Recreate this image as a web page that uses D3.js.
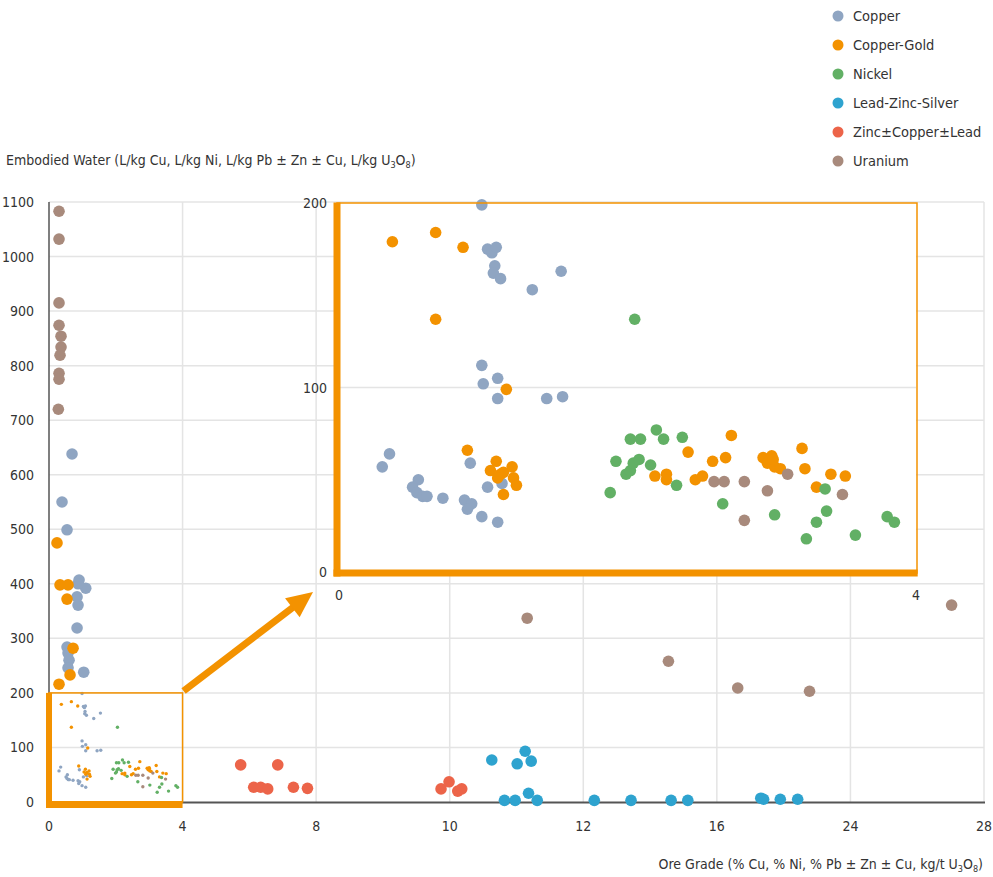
<!DOCTYPE html>
<meta charset="utf-8">
<script src="https://d3js.org/d3.v7.min.js"></script>
<style>
  body{ margin:0; background:#fff; }
  text{ font-family:"Liberation Sans Narrow","DejaVu Sans Condensed","Roboto",sans-serif; fill:#333; }
</style>
<div id="chart"></div>
<script>

// series names and colours
var seriesNames = ["Copper","Copper-Gold","Nickel","Lead-Zinc-Silver","Zinc\u00b1Copper\u00b1Lead","Uranium"]
var colors = ["#8fa5c2","#f39200","#62b065","#2ea3cf","#ec6449","#a88a7c"]

// [ore grade, embodied water]
var copper = [[0.69,638],[0.39,550],[0.54,499],[0.90,407],[1.10,392],[0.87,400],[0.84,376],[0.87,361],[0.84,319],
  [0.54,284],[0.57,273],[0.60,260],[0.57,246],[1.04,238],
  [0.99,199],[1.03,175],[1.06,173],[1.09,176],[1.08,166],[1.07,162],[1.12,159],[1.34,153],[1.54,163],
  [0.99,112],[1.00,102],[1.10,105],[1.10,94],[1.44,94],[1.55,95],
  [0.35,64],[0.30,57],[0.55,50],[0.51,46],[0.54,43],[0.58,41],[0.61,41],[0.72,40],[0.91,59],[1.03,46],
  [1.13,48],[0.87,39],[0.92,37],[0.89,34],[0.99,30],[1.10,27]]
var copperGold = [[0.24,475],[0.33,398],[0.57,398],[0.54,372],[0.72,282],[0.63,233],[0.30,216],
  [0.37,179],[0.67,184],[0.86,176],[0.67,137],[1.16,99],
  [0.89,66],[1.09,60],[1.05,55],[1.12,53],[1.14,54],[1.20,57],[1.21,51],[1.23,47],[1.10,51],[1.14,42],
  [2.72,74],[2.42,65],[2.59,60],[2.68,62],[2.19,52],[2.27,53],[2.27,50],[2.47,50],[2.52,52],[2.94,62],
  [3.00,63],[2.97,59],[3.02,57],[3.06,56],[3.01,61],[3.21,67],[3.23,56],[3.41,53],[3.51,52],[3.31,46]]
var nickel = [[2.05,137],[1.88,43],[1.92,60],[1.99,53],[2.02,55],[2.04,59],[2.08,61],[2.02,72],[2.09,72],
  [2.20,77],[2.25,72],[2.16,58],[2.38,73],[2.34,47],[2.66,37],[3.02,31],[3.24,18],[3.31,27],[3.38,33],
  [3.37,45],[3.58,20],[3.80,30],[3.85,27]]
var leadZinc = [[10.63,77],[10.82,3],[10.98,3],[11.13,93],[11.01,70],[11.22,75],[11.18,16],[11.31,3],
  [12.33,3],[13.43,3],[14.63,3],[15.13,3],[18.63,7],[18.8,5],[19.8,5],[20.84,5]]
var zinc = [[5.74,68],[6.13,27],[6.34,27],[6.55,24],[6.85,68],[7.32,27],[7.74,25],[9.87,24],[9.99,37],
  [10.12,20],[10.18,24]]
var uranium = [[0.3,1083],[0.3,1032],[0.3,915],[0.3,874],[0.36,854],[0.36,834],[0.33,819],[0.3,786],[0.3,775],
  [0.28,720],[11.16,337],[14.55,258],[17.25,209],[21.55,203],[27.03,361],
  [2.60,49],[2.67,49],[2.81,49],[2.97,44],[3.11,53],[2.81,28],[3.49,42]]

var allSeries = [copper,copperGold,nickel,leadZinc,zinc,uranium]

var xTicks = [0,4,8,10,12,16,24,28]
var yTicks = [0,100,200,300,400,500,600,700,800,900,1000,1100]
var insetXTicks = [0,4]
var insetYTicks = [0,100,200]
var zoomBox = {x:4, y:200}

const width = 993, height = 877

const svg = d3.select("#chart").append("svg")
  .attr("width", width).attr("height", height)

// main scales: x axis is broken, ticks evenly spaced
var xScale = d3.scaleLinear().domain(xTicks)
  .range(xTicks.map(function(d,i){ return 49 + i*(984-49)/(xTicks.length-1) }))
var yScale = d3.scaleLinear().domain([0,1100]).range([802,202])

// inset scales
var ixScale = d3.scaleLinear().domain([0,4]).range([339,916])
var iyScale = d3.scaleLinear().domain([0,200]).range([572,203])

var grid = svg.append("g")
grid.selectAll(".hg").data(yTicks.slice(1)).join("line")
  .attr("x1",49).attr("x2",984)
  .attr("y1",d=>yScale(d)).attr("y2",d=>yScale(d))
  .attr("stroke","#e4e4e4").attr("stroke-width",1.5)
grid.selectAll(".vg").data(xTicks.slice(1)).join("line")
  .attr("x1",d=>xScale(d)).attr("x2",d=>xScale(d))
  .attr("y1",202).attr("y2",802)
  .attr("stroke","#e4e4e4").attr("stroke-width",1.5)

// axis lines
svg.append("line").attr("x1",49).attr("x2",49).attr("y1",202).attr("y2",803)
  .attr("stroke","#555").attr("stroke-width",1.5)
svg.append("line").attr("x1",49).attr("x2",985).attr("y1",802.5).attr("y2",802.5)
  .attr("stroke","#555").attr("stroke-width",2)

// tick labels
svg.append("g").selectAll("text").data(yTicks).join("text")
  .attr("x",34).attr("y",d=>yScale(d)+5)
  .attr("text-anchor","end").attr("font-size",14)
  .text(d=>d)
svg.append("g").selectAll("text").data(xTicks).join("text")
  .attr("x",d=>xScale(d)).attr("y",831)
  .attr("text-anchor","middle").attr("font-size",14)
  .text(d=>d)

function inBox(p){ return p[0] <= zoomBox.x && p[1] <= zoomBox.y }

// main points
allSeries.forEach(function(data,i){
  var g = svg.append("g")
  g.selectAll("circle.big").data(data.filter(p=>!inBox(p))).join("circle")
    .attr("cx",p=>xScale(p[0])).attr("cy",p=>yScale(p[1]))
    .attr("r",5.8).attr("fill",colors[i])
  g.selectAll("circle.small").data(data.filter(inBox)).join("circle")
    .attr("cx",p=>xScale(p[0])).attr("cy",p=>yScale(p[1]))
    .attr("r",1.7).attr("fill",colors[i])
})

// zoom box frame in main chart
var orange = "#f39200"
svg.append("rect")
  .attr("x",xScale(0)).attr("y",yScale(zoomBox.y))
  .attr("width",xScale(zoomBox.x)-xScale(0)).attr("height",yScale(0)-yScale(zoomBox.y))
  .attr("fill","none").attr("stroke",orange).attr("stroke-width",1.5)
svg.append("line").attr("x1",xScale(0)).attr("x2",xScale(0))
  .attr("y1",yScale(zoomBox.y)).attr("y2",yScale(0)+6)
  .attr("stroke",orange).attr("stroke-width",6)
svg.append("line").attr("x1",xScale(0)-3).attr("x2",xScale(zoomBox.x))
  .attr("y1",yScale(0)+2.5).attr("y2",yScale(0)+2.5)
  .attr("stroke",orange).attr("stroke-width",7)

// arrow to inset
var ax0 = xScale(zoomBox.x)+1, ay0 = yScale(zoomBox.y)-2
var ax1 = 313, ay1 = 592
var ang = Math.atan2(ay1-ay0, ax1-ax0)
var headLen = 26, headW = 12
var bx = ax1 - headLen*Math.cos(ang), by = ay1 - headLen*Math.sin(ang)
svg.append("line").attr("x1",ax0).attr("y1",ay0).attr("x2",bx+3*Math.cos(ang)).attr("y2",by+3*Math.sin(ang))
  .attr("stroke",orange).attr("stroke-width",7)
svg.append("path")
  .attr("d", d3.line()([
    [ax1,ay1],
    [bx + headW*Math.sin(ang), by - headW*Math.cos(ang)],
    [bx - headW*Math.sin(ang), by + headW*Math.cos(ang)]
  ]) + "Z")
  .attr("fill",orange)

// inset
var inset = svg.append("g")
inset.append("rect").attr("x",334).attr("y",iyScale(200)).attr("width",ixScale(4)-334)
  .attr("height",576-iyScale(200)).attr("fill","#fff")
inset.append("line").attr("x1",ixScale(0)).attr("x2",ixScale(4))
  .attr("y1",iyScale(100)).attr("y2",iyScale(100))
  .attr("stroke","#e4e4e4").attr("stroke-width",1.5)

allSeries.forEach(function(data,i){
  inset.append("g").selectAll("circle").data(data.filter(inBox)).join("circle")
    .attr("cx",p=>ixScale(p[0])).attr("cy",p=>iyScale(p[1]))
    .attr("r",5.8).attr("fill",colors[i])
})

inset.append("rect").attr("x",337).attr("y",iyScale(200))
  .attr("width",ixScale(4)+1-337).attr("height",573-iyScale(200))
  .attr("fill","none").attr("stroke",orange).attr("stroke-width",1.5)
inset.append("line").attr("x1",337).attr("x2",337)
  .attr("y1",iyScale(200)-0.5).attr("y2",576.5)
  .attr("stroke",orange).attr("stroke-width",7)
inset.append("line").attr("x1",333.5).attr("x2",ixScale(4)+1.7)
  .attr("y1",573).attr("y2",573)
  .attr("stroke",orange).attr("stroke-width",7)

inset.append("g").selectAll("text").data(insetYTicks).join("text")
  .attr("x",327).attr("y",d=>iyScale(d)+5)
  .attr("text-anchor","end").attr("font-size",14)
  .text(d=>d)
inset.append("g").selectAll("text").data(insetXTicks).join("text")
  .attr("x",d=>ixScale(d)).attr("y",600)
  .attr("text-anchor","middle").attr("font-size",14)
  .text(d=>d)

// legend
var legend = svg.append("g").selectAll("g").data(seriesNames).join("g")
  .attr("transform",(d,i)=>"translate(838,"+(16+i*29)+")")
legend.append("circle").attr("r",5.5).attr("fill",(d,i)=>colors[i])
legend.append("text").attr("x",15).attr("y",5).attr("font-size",14.5).text(d=>d)

// axis titles
var yt = svg.append("text").attr("x",6).attr("y",165).attr("font-size",14)
yt.append("tspan").text("Embodied Water (L/kg Cu, L/kg Ni, L/kg Pb \u00b1 Zn \u00b1 Cu, L/kg U")
yt.append("tspan").attr("font-size",9).attr("dy",3).text("3")
yt.append("tspan").attr("dy",-3).text("O")
yt.append("tspan").attr("font-size",9).attr("dy",3).text("8")
yt.append("tspan").attr("dy",-3).text(")")

var xt = svg.append("text").attr("x",983).attr("y",869).attr("font-size",14).attr("text-anchor","end")
xt.append("tspan").text("Ore Grade (% Cu, % Ni, % Pb \u00b1 Zn \u00b1 Cu, kg/t U")
xt.append("tspan").attr("font-size",9).attr("dy",3).text("3")
xt.append("tspan").attr("dy",-3).text("O")
xt.append("tspan").attr("font-size",9).attr("dy",3).text("8")
xt.append("tspan").attr("dy",-3).text(")")

</script>
